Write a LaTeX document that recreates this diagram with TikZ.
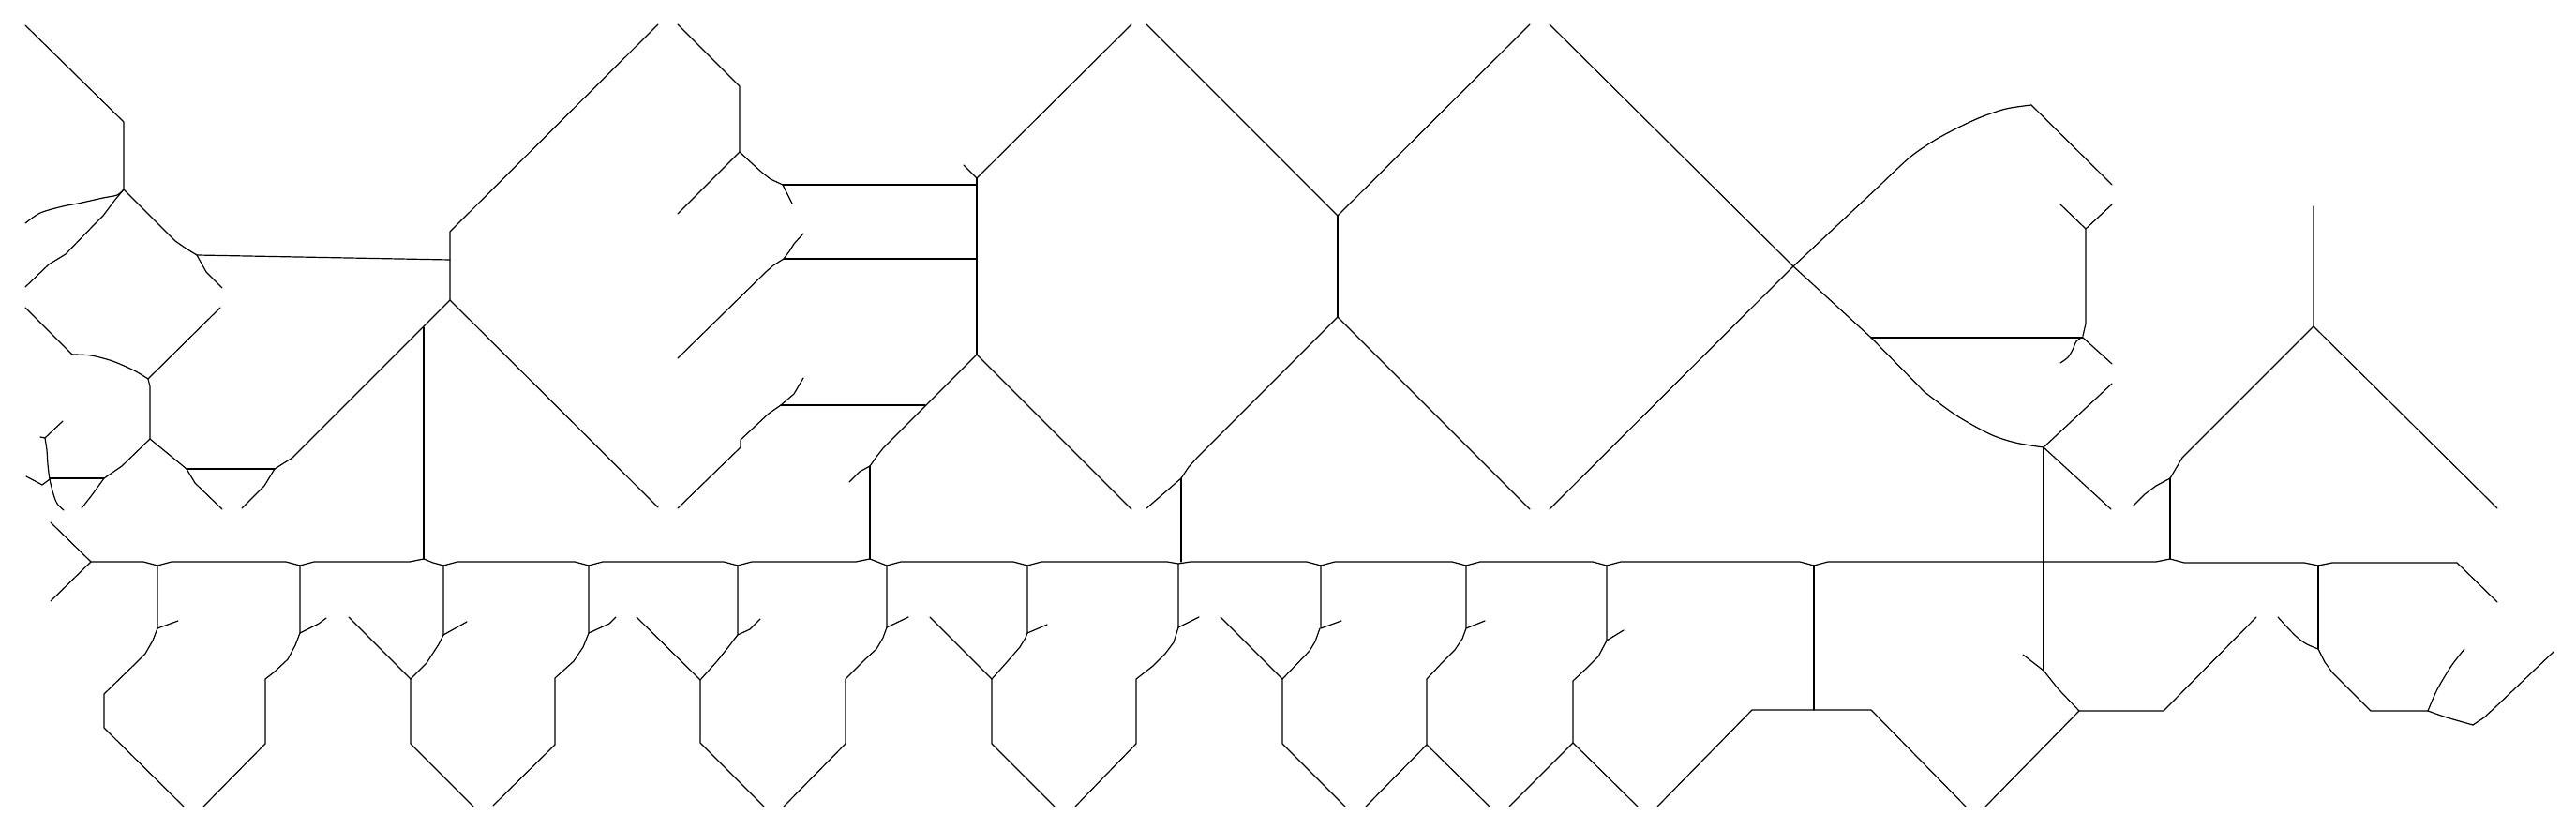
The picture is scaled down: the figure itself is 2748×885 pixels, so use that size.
\documentclass[tikz,border=0pt]{standalone}
\begin{document}
\begin{tikzpicture}[x=1pt,y=-1pt]
\tikzset{ln/.style={line width=1.2pt, line join=round, line cap=round}}
\useasboundingbox (0,0) rectangle (2748,885);
\fill[white] (0,0) rectangle (2748,885);

% ---------- top-left ----------
\draw[ln] (27,27) -- (132,130) -- (132,202);
\draw[ln] plot[smooth] coordinates {(132,202) (125,208) (110,211) (83,217) (67,220) (43,227) (27,238)};
\draw[ln] (132,202) -- (122,214) -- (110,230) -- (100,240) -- (70,271) -- (52,282) -- (27,306);
\draw[ln] (132,202) -- (187,257) -- (200,266) -- (210,272) -- (220,290) -- (237,307);
\draw[ln] (210,272) -- (480,277);

% ---------- lower-left ----------
\draw[ln] (27,328) -- (77,378);
\draw[ln] plot[smooth] coordinates {(77,378) (97,379) (120,385) (143,395) (158,404)};
\draw[ln] (158,404) -- (235,328);
\draw[ln] (158,404) -- (160,412) -- (160,468);
\draw[ln] (160,468) -- (130,497) -- (111,510) -- (98,528) -- (87,542);
\draw[ln] (160,468) -- (199,500) -- (208,515) -- (237,543);
\draw[ln] (199,500) -- (293,500);
\draw[ln] (293,500) -- (282,518) -- (258,542);
\draw[ln] (293,500) -- (312,488) -- (480,320);
\draw[ln] (452,349) -- (452,596);

\draw[ln] (67,449) -- (48,467) -- (43,466);
\draw[ln] plot[smooth] coordinates {(48,467) (50,480) (51,495) (53,511) (57,527) (61,537) (68,544)};
\draw[ln] (53,511) -- (45,517) -- (28,508);
\draw[ln] (53,510) -- (111,510);
\draw[ln] (54,557) -- (97,599) -- (54,641);

% ---------- top middle-left ----------
\draw[ln] (702,26) -- (480,247) -- (480,320) -- (702,541);
\draw[ln] (723,26) -- (789,92) -- (789,162) -- (723,228);
\draw[ln] (789,162) -- (803,175) -- (813,184) -- (822,191) -- (835,197) -- (838,203) -- (845,217);
\draw[ln] (835,197) -- (1042,197);
\draw[ln] (857,249) -- (847,260) -- (842,268) -- (836,276) -- (825,283) -- (817,290) -- (723,382);
\draw[ln] (836,276) -- (1042,276);
\draw[ln] (857,403) -- (847,420) -- (833,432) -- (820,441) -- (790,469) -- (790,477) -- (723,542);
\draw[ln] (833,432) -- (987,432);
\draw[ln] (1028,176) -- (1042,190) -- (1207,26);
\draw[ln] (1042,190) -- (1042,378);
\draw[ln] (1042,378) -- (942,478) -- (935,487) -- (928,497) -- (917,503) -- (906,514);
\draw[ln] (928,497) -- (928,596);
\draw[ln] (1042,378) -- (1207,543);

% ---------- centre ----------
\draw[ln] (1223,26) -- (1427,230) -- (1632,26);
\draw[ln] (1427,230) -- (1427,338);
\draw[ln] (1427,338) -- (1277,488) -- (1268,498) -- (1260,510);
\draw[ln] (1260,510) -- (1223,542);
\draw[ln] (1260,510) -- (1260,599);
\draw[ln] (1427,338) -- (1632,543);
\draw[ln] (1653,26) -- (1913,284) -- (1653,543);

% ---------- upper right ----------
\draw[ln] (1913,284) -- (2005,198);
\draw[ln] plot[smooth] coordinates {(2005,198) (2037,168) (2063,150) (2087,137) (2113,125) (2140,116) (2167,112)};
\draw[ln] (2167,112) -- (2253,197);
\draw[ln] (1913,284) -- (1996,360) -- (2053,418);
\draw[ln] plot[smooth] coordinates {(2053,418) (2087,443) (2123,463) (2150,472) (2180,477)};
\draw[ln] (1996,360) -- (2222,360);
\draw[ln] (2198,218) -- (2225,244) -- (2253,218);
\draw[ln] (2225,244) -- (2225,345) -- (2222,358);
\draw[ln] (2222,360) -- (2253,388);
\draw[ln] plot[smooth] coordinates {(2222,359) (2215,364) (2211,373) (2206,381) (2198,387)};
\draw[ln] (2253,409) -- (2180,477) -- (2252,543);
\draw[ln] (2180,477) -- (2180,715);
\draw[ln] (2180,715) -- (2158,698);
\draw[ln] (2180,715) -- (2196,735) -- (2218,758);
\draw[ln] (2218,758) -- (2308,758) -- (2407,658);
\draw[ln] (2218,758) -- (2118,860);

% ---------- right ----------
\draw[ln] (2468,220) -- (2468,348) -- (2664,542);
\draw[ln] (2468,348) -- (2328,488) -- (2315,510);
\draw[ln] (2315,510) -- (2300,518) -- (2288,527) -- (2276,539);
\draw[ln] (2315,510) -- (2315,596);
\draw[ln] (2621,600) -- (2664,642);

% ---------- main horizontal ----------
\draw[ln] (97,599) -- (153,599) -- (168,603) -- (183,599) -- (305,599) -- (320,603) -- (335,599)
 -- (437,599) -- (452,596) -- (462,600) -- (473,603) -- (488,599) -- (613,599) -- (628,603) -- (643,599)
 -- (772,599) -- (787,603) -- (802,599) -- (913,599) -- (928,596) -- (946,603) -- (961,599)
 -- (1081,599) -- (1096,603) -- (1111,599) -- (1245,599) -- (1257,601) -- (1270,599)
 -- (1394,599) -- (1409,603) -- (1424,599) -- (1549,599) -- (1564,603) -- (1579,599)
 -- (1699,599) -- (1714,603) -- (1729,599) -- (1920,599) -- (1935,603) -- (1950,599)
 -- (2300,599) -- (2315,596) -- (2330,600) -- (2458,600) -- (2473,603) -- (2488,600) -- (2621,600);

% ---------- hanging units ----------
\draw[ln] (168,603) -- (168,670) -- (190,662);
\draw[ln] (168,670) -- (163,683) -- (155,697) -- (145,707) -- (111,740) -- (111,776) -- (196,860);

\draw[ln] (320,603) -- (320,675) -- (340,665) -- (348,659);
\draw[ln] (320,675) -- (315,688) -- (307,703) -- (292,717) -- (283,724) -- (283,793) -- (217,860);

\draw[ln] (372,658) -- (438,724) -- (438,793) -- (505,860);
\draw[ln] (438,724) -- (455,707) -- (468,687) -- (473,677);
\draw[ln] (473,603) -- (473,677) -- (498,663);

\draw[ln] (628,603) -- (628,675) -- (650,665) -- (657,658);
\draw[ln] (628,675) -- (622,690) -- (612,705) -- (592,723) -- (592,794) -- (526,859);

\draw[ln] (679,658) -- (747,725) -- (747,792) -- (815,860);
\draw[ln] (747,725) -- (765,705) -- (777,690) -- (783,682) -- (787,677);
\draw[ln] (787,603) -- (787,677) -- (800,671) -- (811,660);

\draw[ln] (946,603) -- (946,669) -- (969,658);
\draw[ln] (946,669) -- (942,680) -- (935,692) -- (923,703) -- (902,724) -- (902,793) -- (836,860);

\draw[ln] (992,658) -- (1058,724) -- (1058,793) -- (1125,860);
\draw[ln] (1058,724) -- (1075,705) -- (1088,690) -- (1094,680) -- (1096,675);
\draw[ln] (1096,603) -- (1096,675) -- (1117,666);

\draw[ln] (1257,601) -- (1257,669) -- (1279,658);
\draw[ln] (1257,669) -- (1252,685) -- (1243,697) -- (1230,710) -- (1212,724) -- (1212,793) -- (1147,860);

\draw[ln] (1302,658) -- (1368,724) -- (1368,793) -- (1435,860);
\draw[ln] (1368,724) -- (1397,694) -- (1403,684) -- (1408,670);
\draw[ln] (1409,603) -- (1409,670) -- (1431,662);

\draw[ln] (1564,603) -- (1564,670) -- (1584,662);
\draw[ln] (1564,670) -- (1560,681) -- (1552,693) -- (1538,707) -- (1522,724) -- (1522,794) -- (1457,860);
\draw[ln] (1522,794) -- (1589,860);

\draw[ln] (1714,603) -- (1714,683) -- (1732,672);
\draw[ln] (1714,683) -- (1705,700) -- (1693,712) -- (1678,726) -- (1678,792) -- (1610,860);
\draw[ln] (1678,792) -- (1747,860);

\draw[ln] (1768,860) -- (1869,757) -- (1996,757) -- (2097,860);
\draw[ln] (1935,603) -- (1935,757);

\draw[ln] (2473,603) -- (2473,692);
\draw[ln] plot[smooth] coordinates {(2473,692) (2461,687) (2451,680) (2441,670) (2430,658)};
\draw[ln] (2473,692) -- (2480,706) -- (2488,717) -- (2529,758) -- (2590,758);
\draw[ln] plot[smooth] coordinates {(2590,758) (2600,735) (2615,710) (2629,692)};
\draw[ln] plot[smooth] coordinates {(2590,758) (2610,765) (2638,773)};
\draw[ln] (2638,773) -- (2650,765) -- (2663,753) -- (2724,695);
\end{tikzpicture}
\end{document}
